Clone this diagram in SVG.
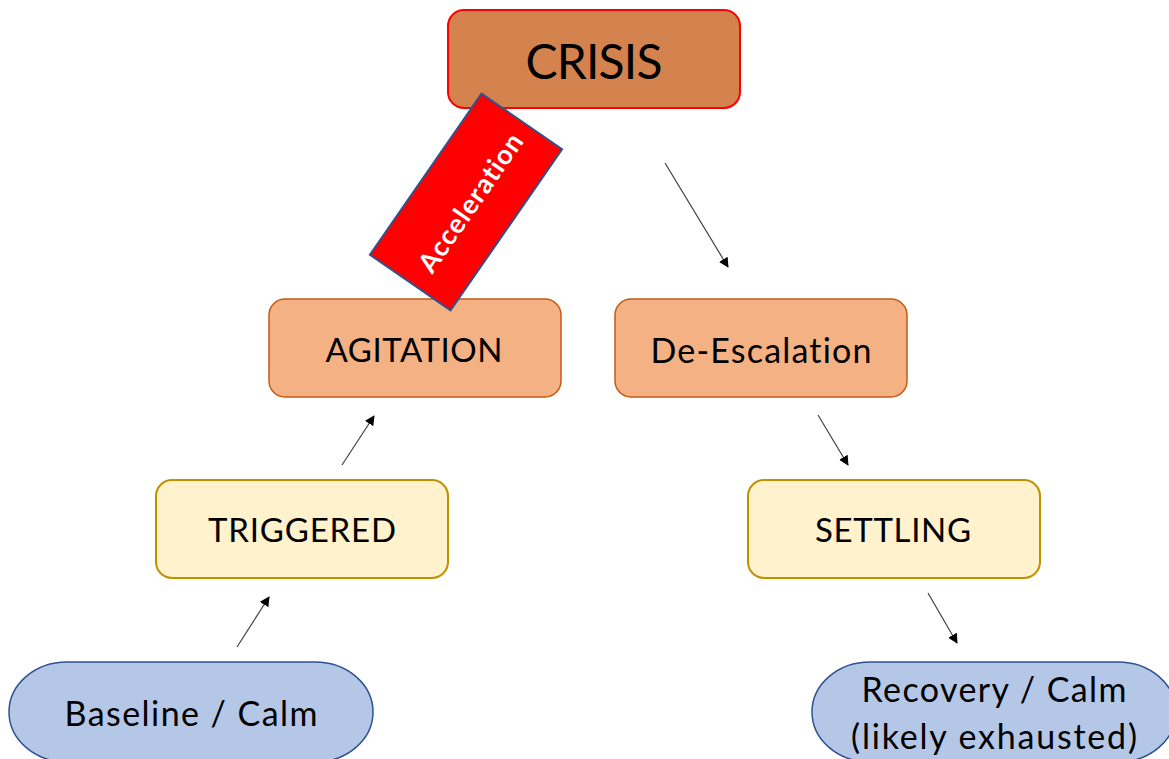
<svg xmlns="http://www.w3.org/2000/svg" width="1169" height="759" viewBox="0 0 1169 759">
<defs>
<style>
.t{font-family:Lato,"Open Sans","Liberation Sans",sans-serif;fill:#000;text-anchor:middle;dominant-baseline:central;font-variant-ligatures:none;font-feature-settings:"liga" 0,"dlig" 0}
.orange{fill:#F4B183;stroke:#C55A11;stroke-width:1.5}
.yellow{fill:#FFF2CC;stroke:#BF9000;stroke-width:2}
.blue{fill:#B4C7E7;stroke:#2F528F;stroke-width:1.5}
.conn{stroke:#404040;stroke-width:1.2;fill:none;marker-end:url(#ah)}
</style>
<marker id="ah" viewBox="0 0 10 10" refX="9" refY="5" markerWidth="10" markerHeight="10" markerUnits="userSpaceOnUse" orient="auto">
<path d="M0,0 L10,5 L0,10 Z" fill="#000"/>
</marker>
</defs>
<rect width="1169" height="759" fill="#fff"/>
<g id="crisis">
<rect x="448" y="10" width="292" height="98" rx="16" fill="#D4824E" stroke="#FF0000" stroke-width="2"/>
<text class="t" x="594" y="60" font-size="48" textLength="137">CRISIS</text>
</g>
<g id="agitation">
<rect class="orange" x="269" y="299" width="292" height="98" rx="16"/>
<text class="t" x="414" y="349" font-size="33" textLength="177">AGITATION</text>
</g>
<g id="deescalation">
<rect class="orange" x="615" y="299" width="292" height="98" rx="16"/>
<text class="t" x="761" y="349" font-size="34" textLength="221">De-Escalation</text>
</g>
<g id="triggered">
<rect class="yellow" x="156" y="480" width="292" height="98" rx="16"/>
<text class="t" x="302" y="529" font-size="33" textLength="188">TRIGGERED</text>
</g>
<g id="settling">
<rect class="yellow" x="748" y="480" width="292" height="98" rx="16"/>
<text class="t" x="893" y="529" font-size="33" textLength="156">SETTLING</text>
</g>
<g id="baseline">
<rect class="blue" x="9" y="662" width="364" height="100" rx="58" ry="50"/>
<text class="t" x="191" y="712" font-size="34" textLength="253">Baseline / Calm</text>
</g>
<g id="recovery">
<rect class="blue" x="812" y="662" width="364" height="100" rx="58" ry="50"/>
<text class="t" x="994" y="688" font-size="34" textLength="265">Recovery / Calm</text>
<text class="t" x="994" y="735" font-size="34" textLength="286">(likely exhausted)</text>
</g>
<g id="acceleration">
<g transform="translate(466,202) rotate(-55.3)">
<rect x="-98" y="-49" width="196" height="98" fill="#FF0000" stroke="#2F528F" stroke-width="2"/>
<text class="t" x="2" y="3" font-size="27" font-weight="bold" textLength="162" style="fill:#fff">Acceleration</text>
</g>
</g>
<g id="connectors">
<line class="conn" x1="237" y1="647" x2="269" y2="597"/>
<line class="conn" x1="342" y1="465" x2="374" y2="416"/>
<line class="conn" x1="665" y1="163" x2="728" y2="267"/>
<line class="conn" x1="818" y1="415" x2="848" y2="465"/>
<line class="conn" x1="928" y1="593" x2="957" y2="643"/>
</g>
</svg>
